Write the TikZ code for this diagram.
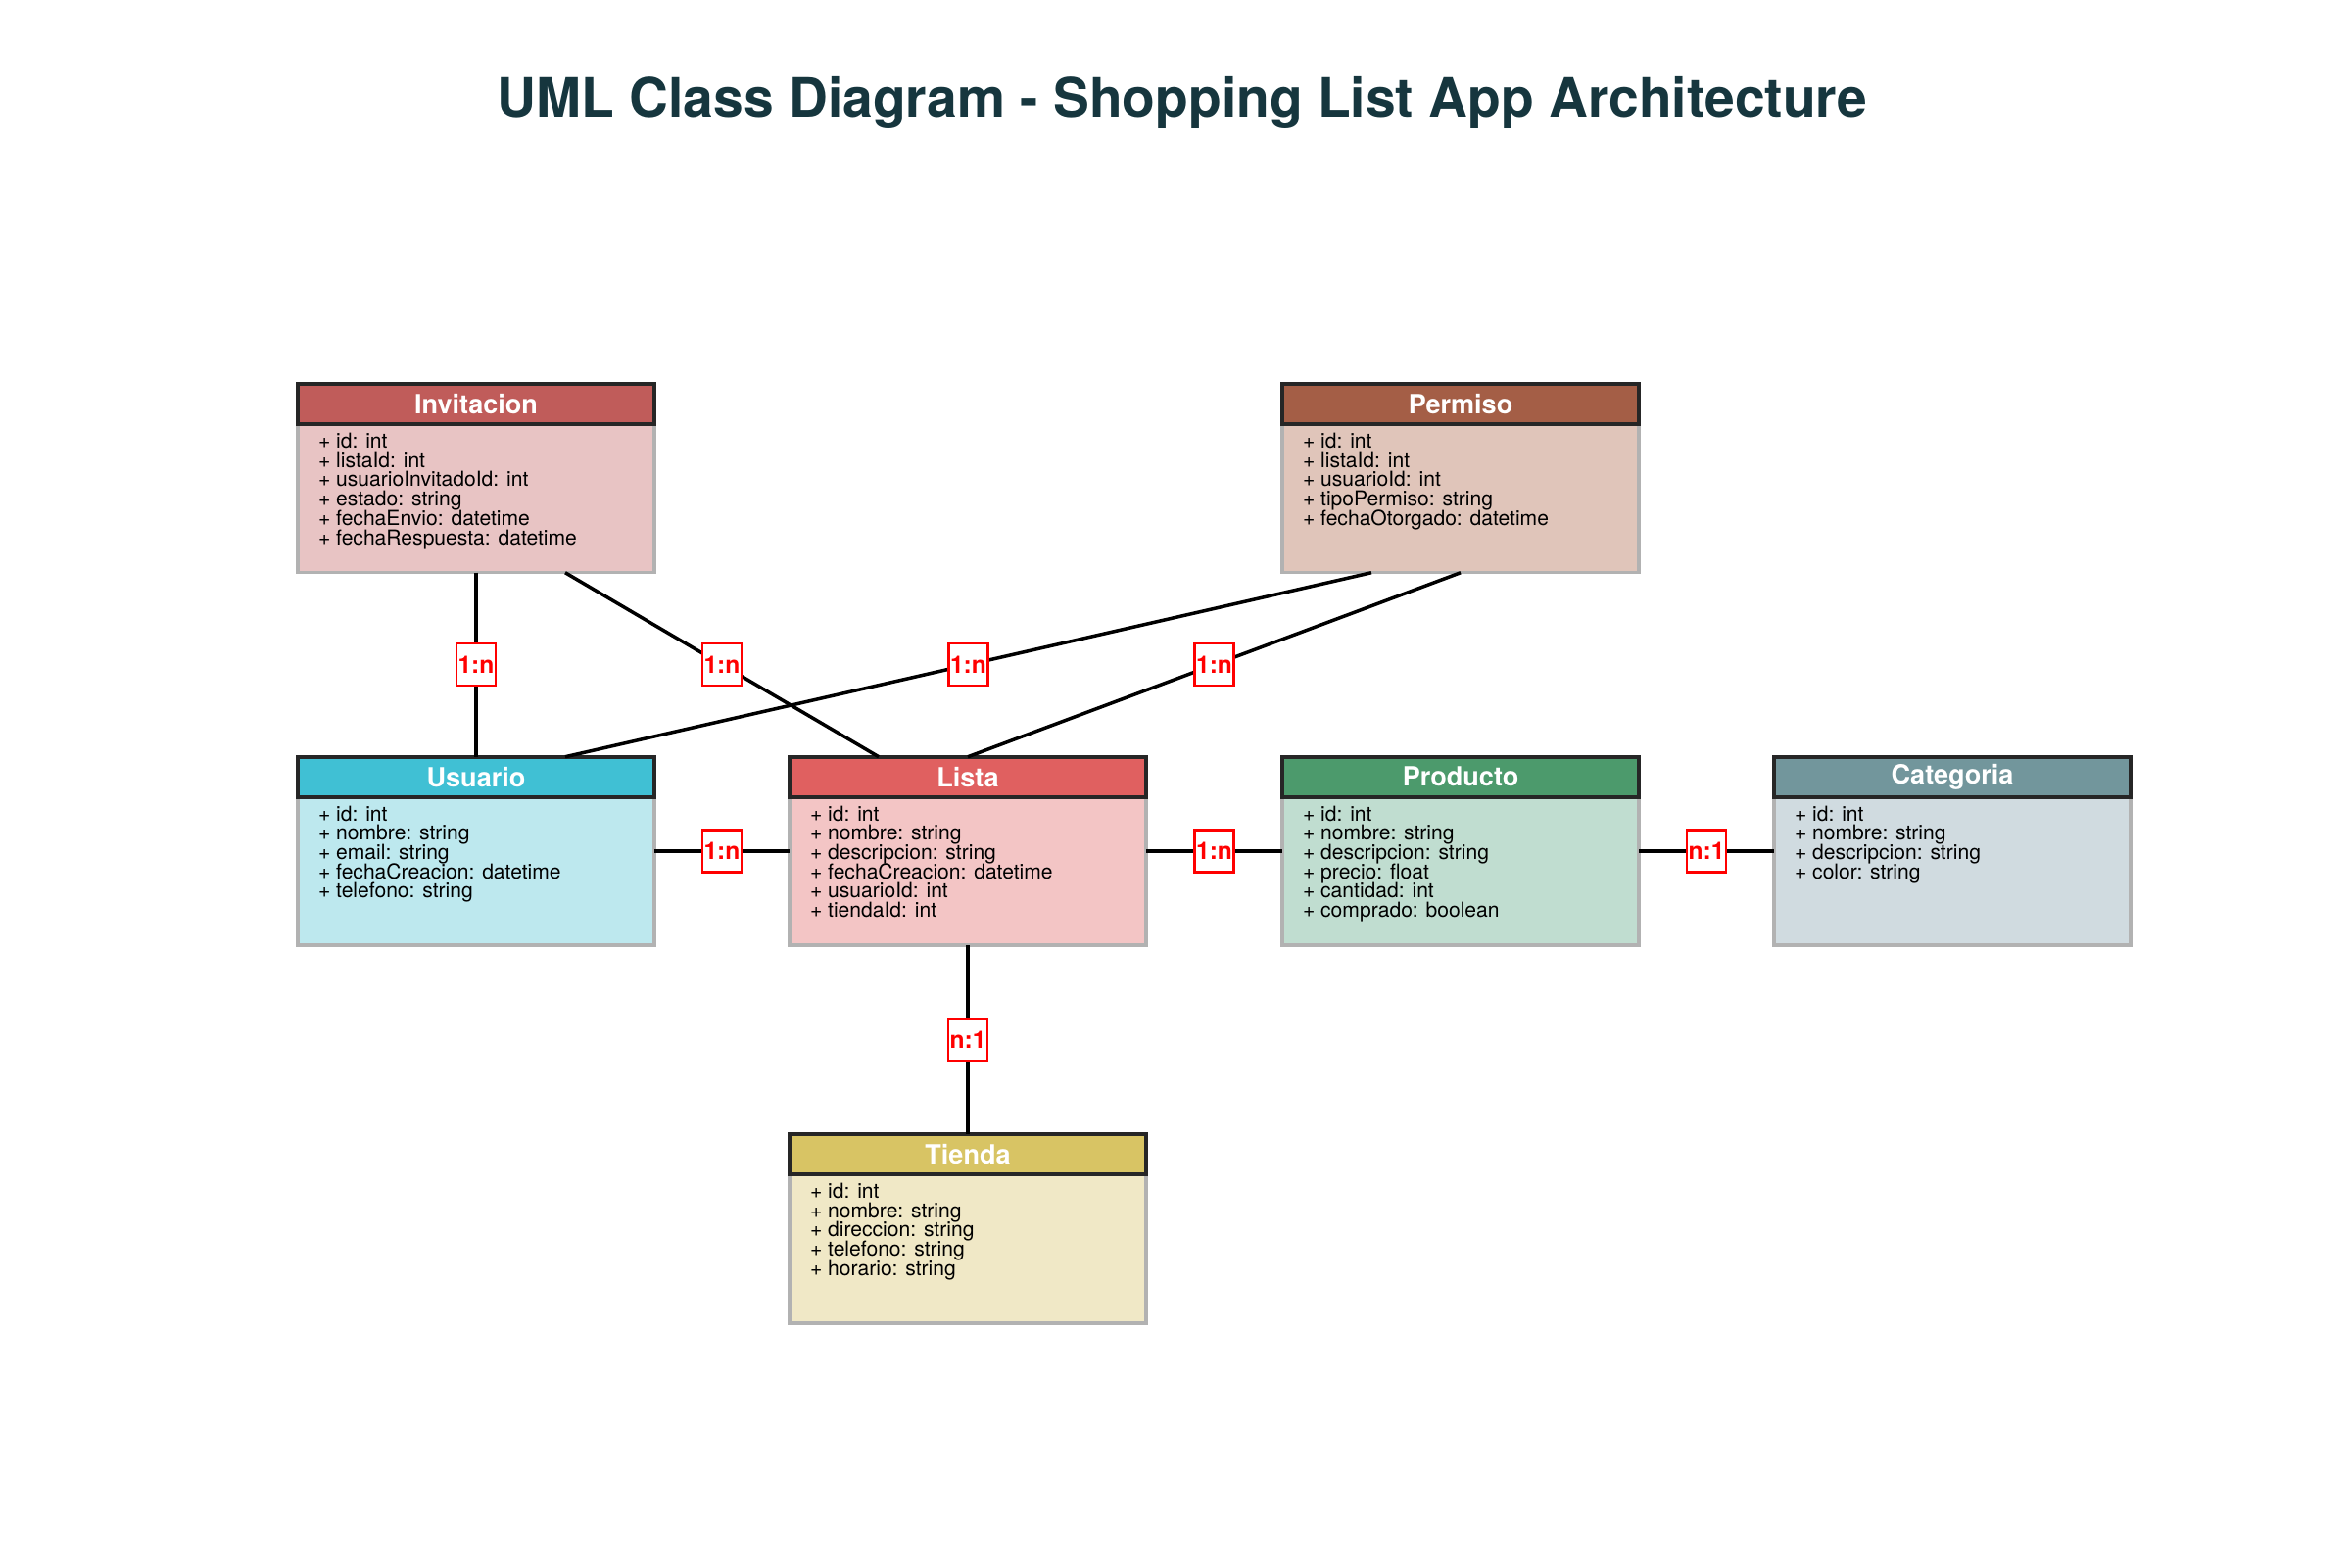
\documentclass[tikz,border=0pt]{standalone}
\usepackage{fontspec}
\setmainfont{TeX Gyre Heros}
\usetikzlibrary{calc}

\newcommand{\attrfont}{\fontsize{6}{5.6}\selectfont\setlength{\lineskiplimit}{-5pt}}

\begin{document}
\begin{tikzpicture}[
    inner sep=0pt, outer sep=0pt,%
    classbody/.style={draw=black!30, line width=1pt, minimum width=3.64cm, minimum height=1.925cm},
    classhead/.style={draw=black!85, line width=1.1pt, anchor=north, minimum width=3.64cm,
        minimum height=0.41cm, text=white, font=\fontsize{7.7}{9}\selectfont\bfseries},
    attrs/.style={anchor=north west, align=left, font=\attrfont},
    link/.style={line width=1pt},
    card/.style={draw=red, line width=0.6pt, fill=white, text=red, minimum width=0.4cm,
        minimum height=0.43cm, font=\fontsize{7}{8}\selectfont\bfseries},
]
    % Colors
    \definecolor{titlecol}{HTML}{16363E}
    \definecolor{invDark}{HTML}{C05C5A}   \definecolor{invLight}{HTML}{E8C4C4}
    \definecolor{perDark}{HTML}{A45E46}   \definecolor{perLight}{HTML}{E0C5BA}
    \definecolor{usuDark}{HTML}{40C0D4}   \definecolor{usuLight}{HTML}{BDE8EE}
    \definecolor{lisDark}{HTML}{E06060}   \definecolor{lisLight}{HTML}{F3C5C5}
    \definecolor{proDark}{HTML}{4C9A6C}   \definecolor{proLight}{HTML}{C0DDD0}
    \definecolor{catDark}{HTML}{72969C}   \definecolor{catLight}{HTML}{D0DBE0}
    \definecolor{tieDark}{HTML}{D8C464}   \definecolor{tieLight}{HTML}{F0E8C6}

    \useasboundingbox (0,0) rectangle (24,16);

    % Title
    \node[anchor=base, text=titlecol, font=\fontsize{15.7}{19}\selectfont\bfseries] (title)
        at (12.07,14.80) {UML Class Diagram - Shopping List App Architecture};

    % Invitacion
    \node[classbody, fill=invLight] (invitacion) at (4.86,11.115) {};
    \node[classhead, fill=invDark] (invitacion-h) at (invitacion.north) {Invitacion};
    \node[attrs] (invitacion-a) at ($(invitacion-h.south west)+(0.21,-0.09)$)
        {+ id: int\\+ listaId: int\\+ usuarioInvitadoId: int\\+ estado: string\\+ fechaEnvio: datetime\\+ fechaRespuesta: datetime};

    % Permiso
    \node[classbody, fill=perLight] (permiso) at (14.91,11.115) {};
    \node[classhead, fill=perDark] (permiso-h) at (permiso.north) {Permiso};
    \node[attrs] (permiso-a) at ($(permiso-h.south west)+(0.21,-0.09)$)
        {+ id: int\\+ listaId: int\\+ usuarioId: int\\+ tipoPermiso: string\\+ fechaOtorgado: datetime};

    % Usuario
    \node[classbody, fill=usuLight] (usuario) at (4.86,7.31) {};
    \node[classhead, fill=usuDark] (usuario-h) at (usuario.north) {Usuario};
    \node[attrs] (usuario-a) at ($(usuario-h.south west)+(0.21,-0.09)$)
        {+ id: int\\+ nombre: string\\+ email: string\\+ fechaCreacion: datetime\\+ telefono: string};

    % Lista
    \node[classbody, fill=lisLight] (lista) at (9.88,7.31) {};
    \node[classhead, fill=lisDark] (lista-h) at (lista.north) {Lista};
    \node[attrs] (lista-a) at ($(lista-h.south west)+(0.21,-0.09)$)
        {+ id: int\\+ nombre: string\\+ descripcion: string\\+ fechaCreacion: datetime\\+ usuarioId: int\\+ tiendaId: int};

    % Producto
    \node[classbody, fill=proLight] (producto) at (14.91,7.31) {};
    \node[classhead, fill=proDark] (producto-h) at (producto.north) {Producto};
    \node[attrs] (producto-a) at ($(producto-h.south west)+(0.21,-0.09)$)
        {+ id: int\\+ nombre: string\\+ descripcion: string\\+ precio: float\\+ cantidad: int\\+ comprado: boolean};

    % Categoria
    \node[classbody, fill=catLight] (categoria) at (19.93,7.31) {};
    \node[classhead, fill=catDark] (categoria-h) at (categoria.north) {Categoria};
    \node[attrs] (categoria-a) at ($(categoria-h.south west)+(0.21,-0.09)$)
        {+ id: int\\+ nombre: string\\+ descripcion: string\\+ color: string};

    % Tienda
    \node[classbody, fill=tieLight] (tienda) at (9.88,3.455) {};
    \node[classhead, fill=tieDark] (tienda-h) at (tienda.north) {Tienda};
    \node[attrs] (tienda-a) at ($(tienda-h.south west)+(0.21,-0.09)$)
        {+ id: int\\+ nombre: string\\+ direccion: string\\+ telefono: string\\+ horario: string};

    % Relations
    \draw[link] (invitacion.south) -- (usuario.north) node[card, midway] {1:n};
    \draw[link] ($(invitacion.south west)!0.75!(invitacion.south east)$)
        -- ($(lista.north west)!0.25!(lista.north east)$) node[card, midway] {1:n};
    \draw[link] ($(permiso.south west)!0.25!(permiso.south east)$)
        -- ($(usuario.north west)!0.75!(usuario.north east)$) node[card, midway] {1:n};
    \draw[link] (permiso.south) -- (lista.north) node[card, midway] {1:n};
    \draw[link] (usuario.east) -- (lista.west) node[card, midway] {1:n};
    \draw[link] (lista.east) -- (producto.west) node[card, midway] {1:n};
    \draw[link] (producto.east) -- (categoria.west) node[card, midway] {n:1};
    \draw[link] (lista.south) -- (tienda.north) node[card, midway] {n:1};

\end{tikzpicture}
\end{document}
